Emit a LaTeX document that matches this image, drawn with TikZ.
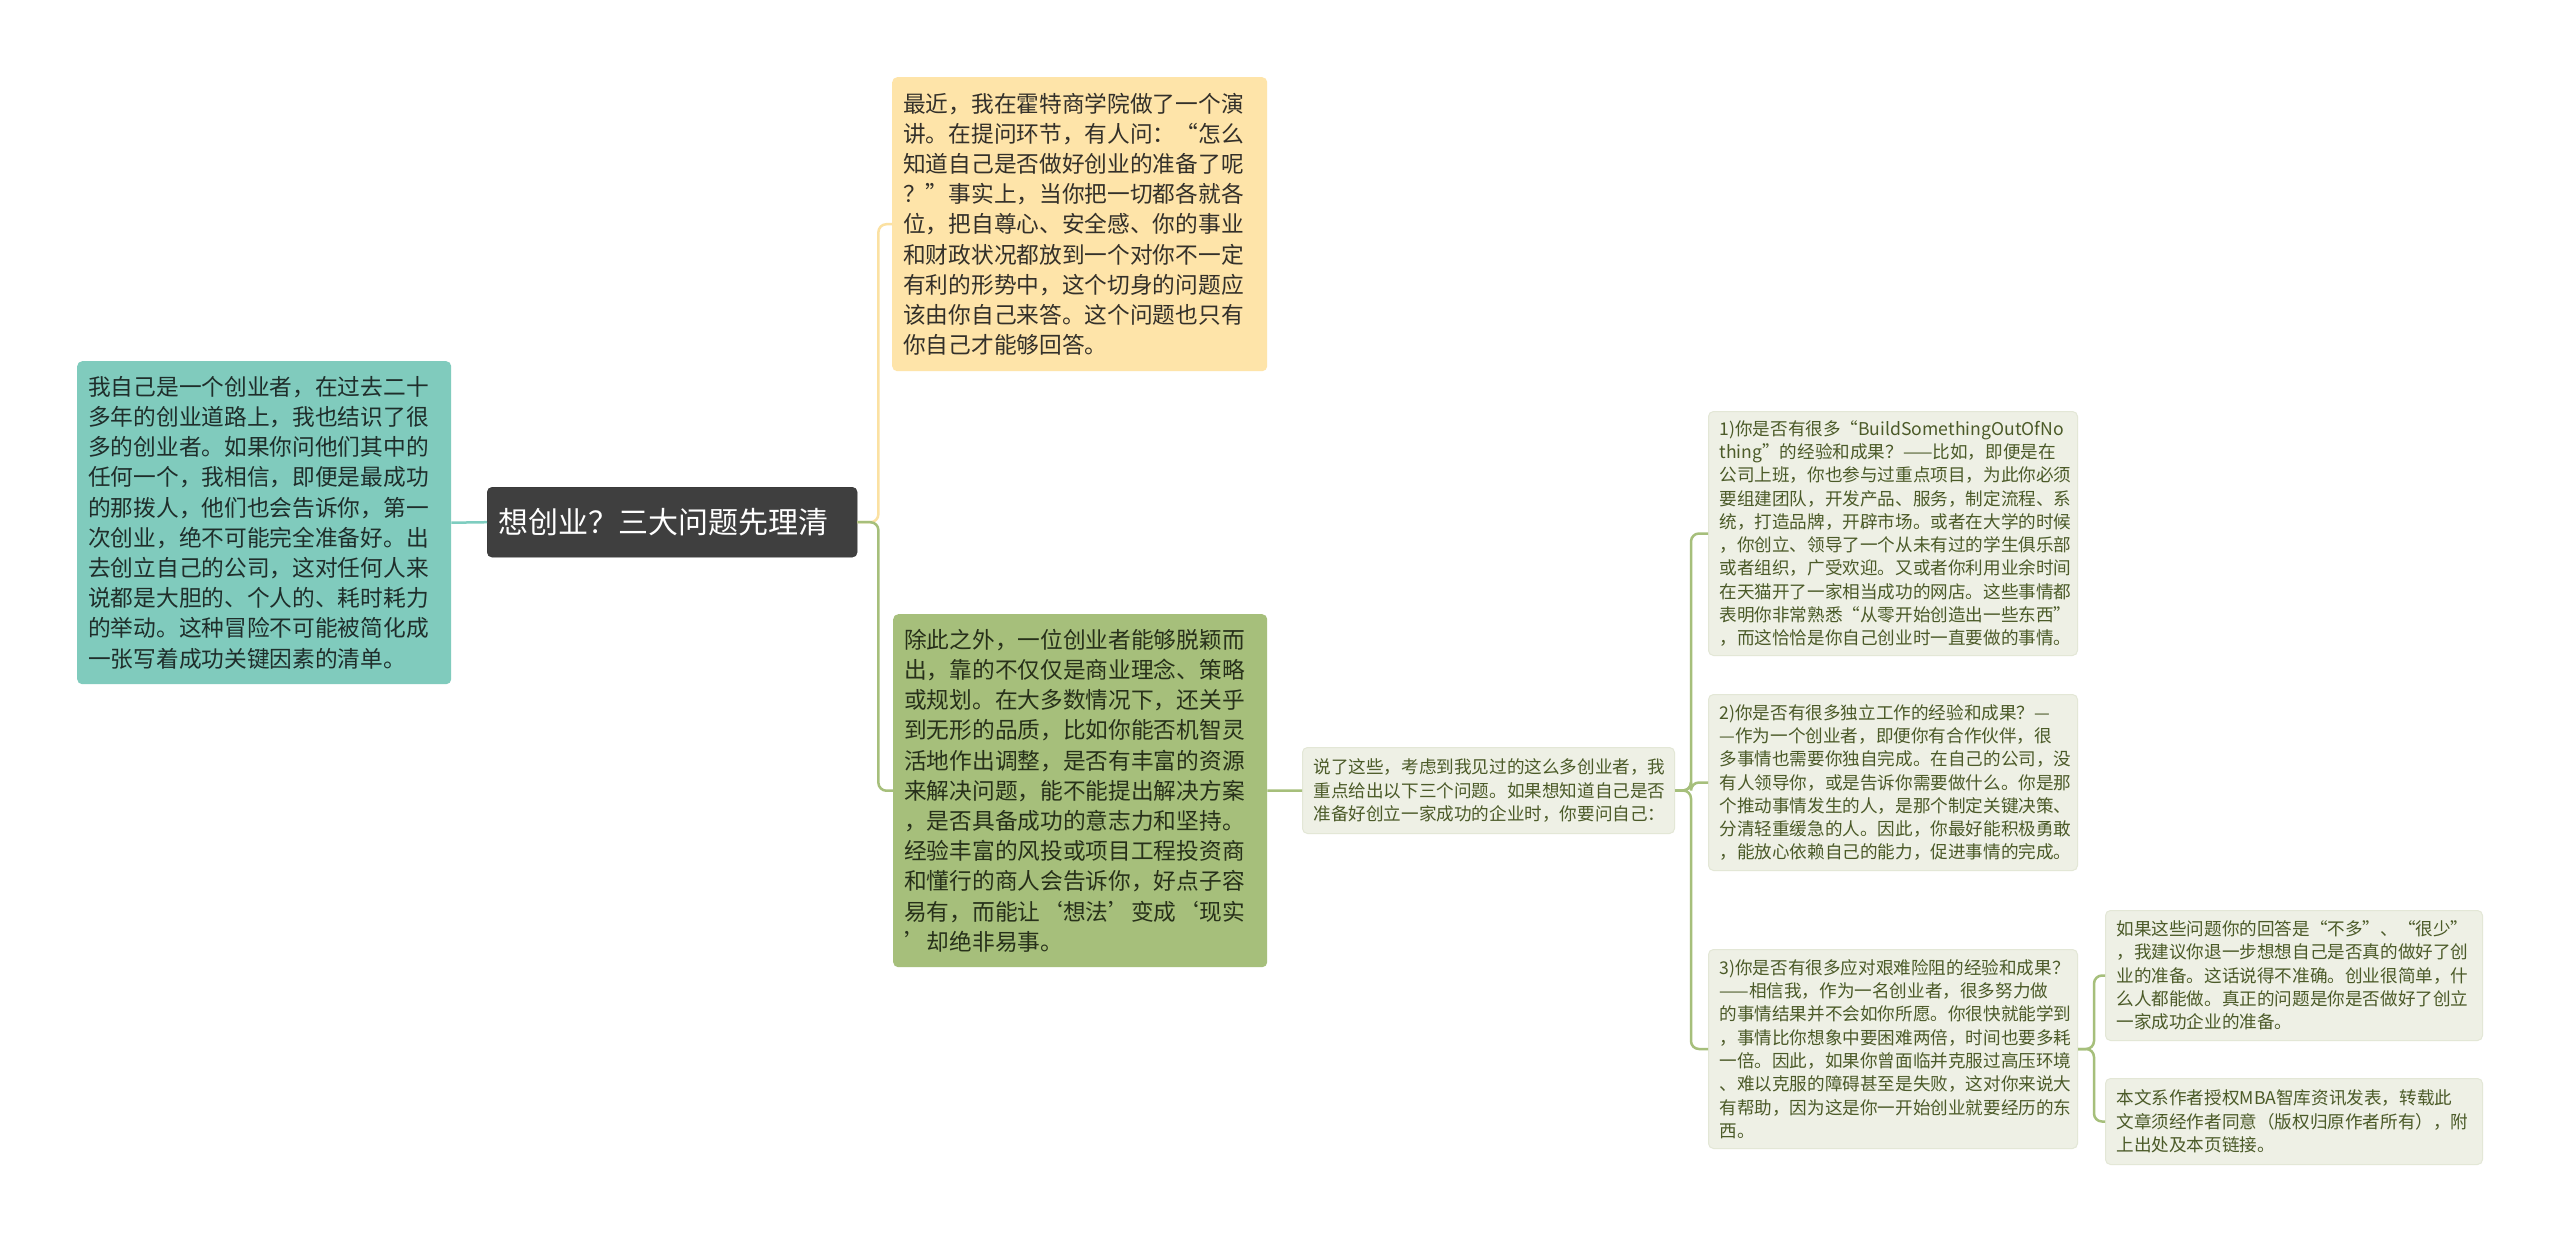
\documentclass[tikz,border=0pt]{standalone}
\usepackage{fontspec}
\setmainfont{Noto Sans CJK SC}
\definecolor{rootfill}{HTML}{3F3F3F}
\definecolor{tealfill}{HTML}{80CBBD}
\definecolor{tealtext}{HTML}{1F2E2B}
\definecolor{yelfill}{HTML}{FEE4A9}
\definecolor{yeltext}{HTML}{33302A}
\definecolor{grnfill}{HTML}{A6BF7B}
\definecolor{grntext}{HTML}{27301A}
\definecolor{lightfill}{HTML}{EEF0E5}
\definecolor{lightdraw}{HTML}{E3E7D6}
\definecolor{lighttext}{HTML}{4B5A28}
\definecolor{tealline}{HTML}{7ECDC0}
\definecolor{yelline}{HTML}{FBE1A2}
\definecolor{grnline}{HTML}{A6BF7B}
\begin{document}
\begin{tikzpicture}[x=1pt,y=-1pt,
  box/.style={rounded corners=5pt, align=left, anchor=north west, inner xsep=11pt, inner ysep=0pt},
  bigbox/.style={box, font=\fontsize{22.7}{30.2}\selectfont},
  smallbox/.style={box, font=\fontsize{17.6}{23.3}\selectfont, fill=lightfill, draw=lightdraw, line width=1pt, text=lighttext},
  conn/.style={line width=2.5pt, rounded corners=8pt}]
\useasboundingbox (0,0) rectangle (2560,1240);
\fill[white] (0,0) rectangle (2560,1240);

% root
\node[box, fill=rootfill, draw=rootfill!80!black, text=white, font=\fontsize{30}{36}\selectfont,
  minimum width=370pt, minimum height=70pt, text width=348pt] (root) at (487,487) {想创业？三大问题先理清};

% left teal
\node[bigbox, fill=tealfill, text=tealtext, minimum width=374pt, minimum height=323pt, text width=352pt] (left) at (77,361)
{我自己是一个创业者，在过去二十\\
多年的创业道路上，我也结识了很\\
多的创业者。如果你问他们其中的\\
任何一个，我相信，即便是最成功\\
的那拨人，他们也会告诉你，第一\\
次创业，绝不可能完全准备好。出\\
去创立自己的公司，这对任何人来\\
说都是大胆的、个人的、耗时耗力\\
的举动。这种冒险不可能被简化成\\
一张写着成功关键因素的清单。};

% top yellow
\node[bigbox, fill=yelfill, text=yeltext, minimum width=375pt, minimum height=294pt, text width=353pt] (top) at (892,77)
{最近，我在霍特商学院做了一个演\\
讲。在提问环节，有人问：“怎么\\
知道自己是否做好创业的准备了呢\\
？”事实上，当你把一切都各就各\\
位，把自尊心、安全感、你的事业\\
和财政状况都放到一个对你不一定\\
有利的形势中，这个切身的问题应\\
该由你自己来答。这个问题也只有\\
你自己才能够回答。};

% green
\node[bigbox, fill=grnfill, text=grntext, minimum width=374pt, minimum height=353pt, text width=352pt] (green) at (893,614)
{除此之外，一位创业者能够脱颖而\\
出，靠的不仅仅是商业理念、策略\\
或规划。在大多数情况下，还关乎\\
到无形的品质，比如你能否机智灵\\
活地作出调整，是否有丰富的资源\\
来解决问题，能不能提出解决方案\\
，是否具备成功的意志力和坚持。\\
经验丰富的风投或项目工程投资商\\
和懂行的商人会告诉你，好点子容\\
易有，而能让‘想法’变成‘现实\\
’却绝非易事。};

% middle
\node[smallbox, minimum width=372pt, minimum height=86pt, text width=350pt] (mid) at (1302,747)
{说了这些，考虑到我见过的这么多创业者，我\\
重点给出以下三个问题。如果想知道自己是否\\
准备好创立一家成功的企业时，你要问自己：};

% Q1
\node[smallbox, minimum width=369pt, minimum height=244pt, text width=347pt] (q1) at (1708,411)
{1)你是否有很多“BuildSomethingOutOfNo\\
thing”的经验和成果？——比如，即便是在\\
公司上班，你也参与过重点项目，为此你必须\\
要组建团队，开发产品、服务，制定流程、系\\
统，打造品牌，开辟市场。或者在大学的时候\\
，你创立、领导了一个从未有过的学生俱乐部\\
或者组织，广受欢迎。又或者你利用业余时间\\
在天猫开了一家相当成功的网店。这些事情都\\
表明你非常熟悉“从零开始创造出一些东西”\\
，而这恰恰是你自己创业时一直要做的事情。};

% Q2
\node[smallbox, minimum width=369pt, minimum height=176pt, text width=347pt] (q2) at (1708,694)
{2)你是否有很多独立工作的经验和成果？—\\
—作为一个创业者，即便你有合作伙伴，很\\
多事情也需要你独自完成。在自己的公司，没\\
有人领导你，或是告诉你需要做什么。你是那\\
个推动事情发生的人，是那个制定关键决策、\\
分清轻重缓急的人。因此，你最好能积极勇敢\\
，能放心依赖自己的能力，促进事情的完成。};

% Q3
\node[smallbox, minimum width=369pt, minimum height=199pt, text width=347pt] (q3) at (1708,949)
{3)你是否有很多应对艰难险阻的经验和成果？\\
——相信我，作为一名创业者，很多努力做\\
的事情结果并不会如你所愿。你很快就能学到\\
，事情比你想象中要困难两倍，时间也要多耗\\
一倍。因此，如果你曾面临并克服过高压环境\\
、难以克服的障碍甚至是失败，这对你来说大\\
有帮助，因为这是你一开始创业就要经历的东\\
西。};

% A1
\node[smallbox, minimum width=377pt, minimum height=130pt, text width=355pt] (a1) at (2105,910)
{如果这些问题你的回答是“不多”、“很少”\\
，我建议你退一步想想自己是否真的做好了创\\
业的准备。这话说得不准确。创业很简单，什\\
么人都能做。真正的问题是你是否做好了创立\\
一家成功企业的准备。};

% A2
\node[smallbox, minimum width=377pt, minimum height=86pt, text width=355pt] (a2) at (2105,1078)
{本文系作者授权MBA智库资讯发表，转载此\\
文章须经作者同意（版权归原作者所有），附\\
上出处及本页链接。};

% connectors
\coordinate (rb) at ([xshift=21pt]root.east);
\coordinate (mb) at ([xshift=16pt]mid.east);
\coordinate (qb) at ([xshift=16pt]q3.east);

\draw[conn, tealline] (root.west) -- (left.east);
\draw[conn, yelline] (root.east) -- (rb) |- (top.west);
\draw[conn, grnline] (root.east) -- (rb) |- (green.west);
\draw[conn, grnline] (green.east) -- (mid.west);
\draw[conn, grnline] (mid.east) -- (mb) |- (q1.west);
\draw[conn, grnline] (mid.east) -- (mb) |- (q2.west);
\draw[conn, grnline] (mid.east) -- (mb) |- (q3.west);
\draw[conn, grnline] (q3.east) -- (qb) |- (a1.west);
\draw[conn, grnline] (q3.east) -- (qb) |- (a2.west);
\end{tikzpicture}
\end{document}
